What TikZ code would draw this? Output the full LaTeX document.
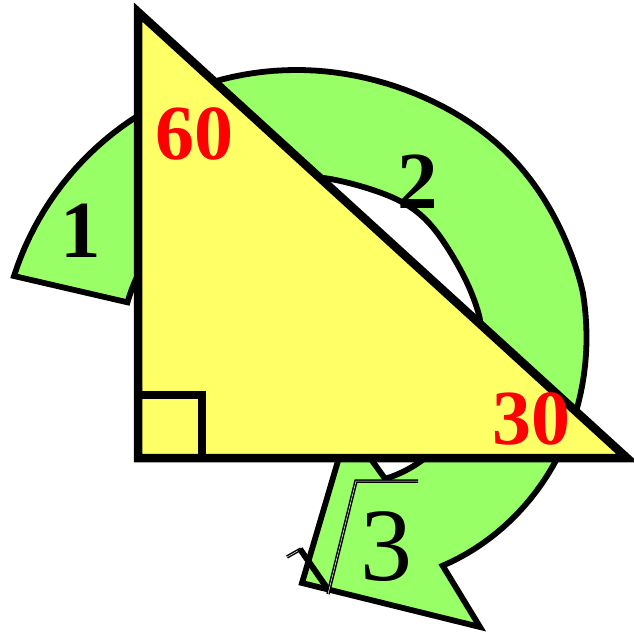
\documentclass[tikz,border=0pt]{standalone}
\usepackage{fontspec}
\setmainfont{Liberation Serif}
\definecolor{lgreen}{RGB}{153,255,102}
\definecolor{lyellow}{RGB}{255,255,102}
\begin{document}
\begin{tikzpicture}[x=1pt,y=-1pt,
  declare function={
    dro(\t)=0.4*max(0,15-\t)+0.0044*max(0,15-\t)*max(0,15-\t);
    ro(\t)=296+4*exp(-((\t-45)/20)*((\t-45)/20))-dro(\t);
    ri(\t)=190+6*exp(-((\t-52)/14)*((\t-52)/14))-dro(\t)-0.25*max(0,\t-120);
  },
  angl/.style={inner sep=0pt, text=red, font=\fontsize{78}{78}\selectfont\bfseries},
  side/.style={inner sep=0pt, text=black, font=\fontsize{81}{81}\selectfont\bfseries},
  root/.style={inner sep=0pt, text=black, font=\fontsize{104}{104}\selectfont},
  radline/.style={line width=1.5pt, double=white, double distance=0.5pt, line cap=butt}]
\useasboundingbox (0,0) rectangle (633,634);
% curved green arrow
\draw[fill=lgreen, line width=5.8pt, line join=miter]
  plot[domain=0:216, samples=109, variable=\u]
    ({296+ro(162.3-\u)*cos(162.3-\u)}, {366-ro(162.3-\u)*sin(162.3-\u)})
  -- (480,627) -- (302,583) -- (348,427)
  -- plot[domain=-51.7:159.3, samples=106, variable=\t]
    ({296+ri(\t)*cos(\t)}, {366-ri(\t)*sin(\t)})
  -- cycle;
% triangle
\coordinate (A) at (138,12);
\coordinate (B) at (138,458);
\coordinate (C) at (627,458);
\draw[fill=lyellow, line width=8.5pt, line join=miter] (A) -- (B) -- (C) -- cycle;
\draw[line width=8pt] (138,395) -- (202,395) -- (202,458);
% labels
\node[angl] (l60) at (194,134) {60};
\node[angl] (l30) at (531,419) {30};
\node[side] (l1) at (81,231) {1};
\node[side] (l2) at (418,182) {2};
\node[root] (l3) at (386,547) {3};
% radical sign
\draw[radline] (287,557) -- (301,549);
\draw[line width=6pt] (300,549) -- (327,588);
\draw[radline, line join=miter] (328,594) -- (356,481) -- (418,481);
\end{tikzpicture}
\end{document}
